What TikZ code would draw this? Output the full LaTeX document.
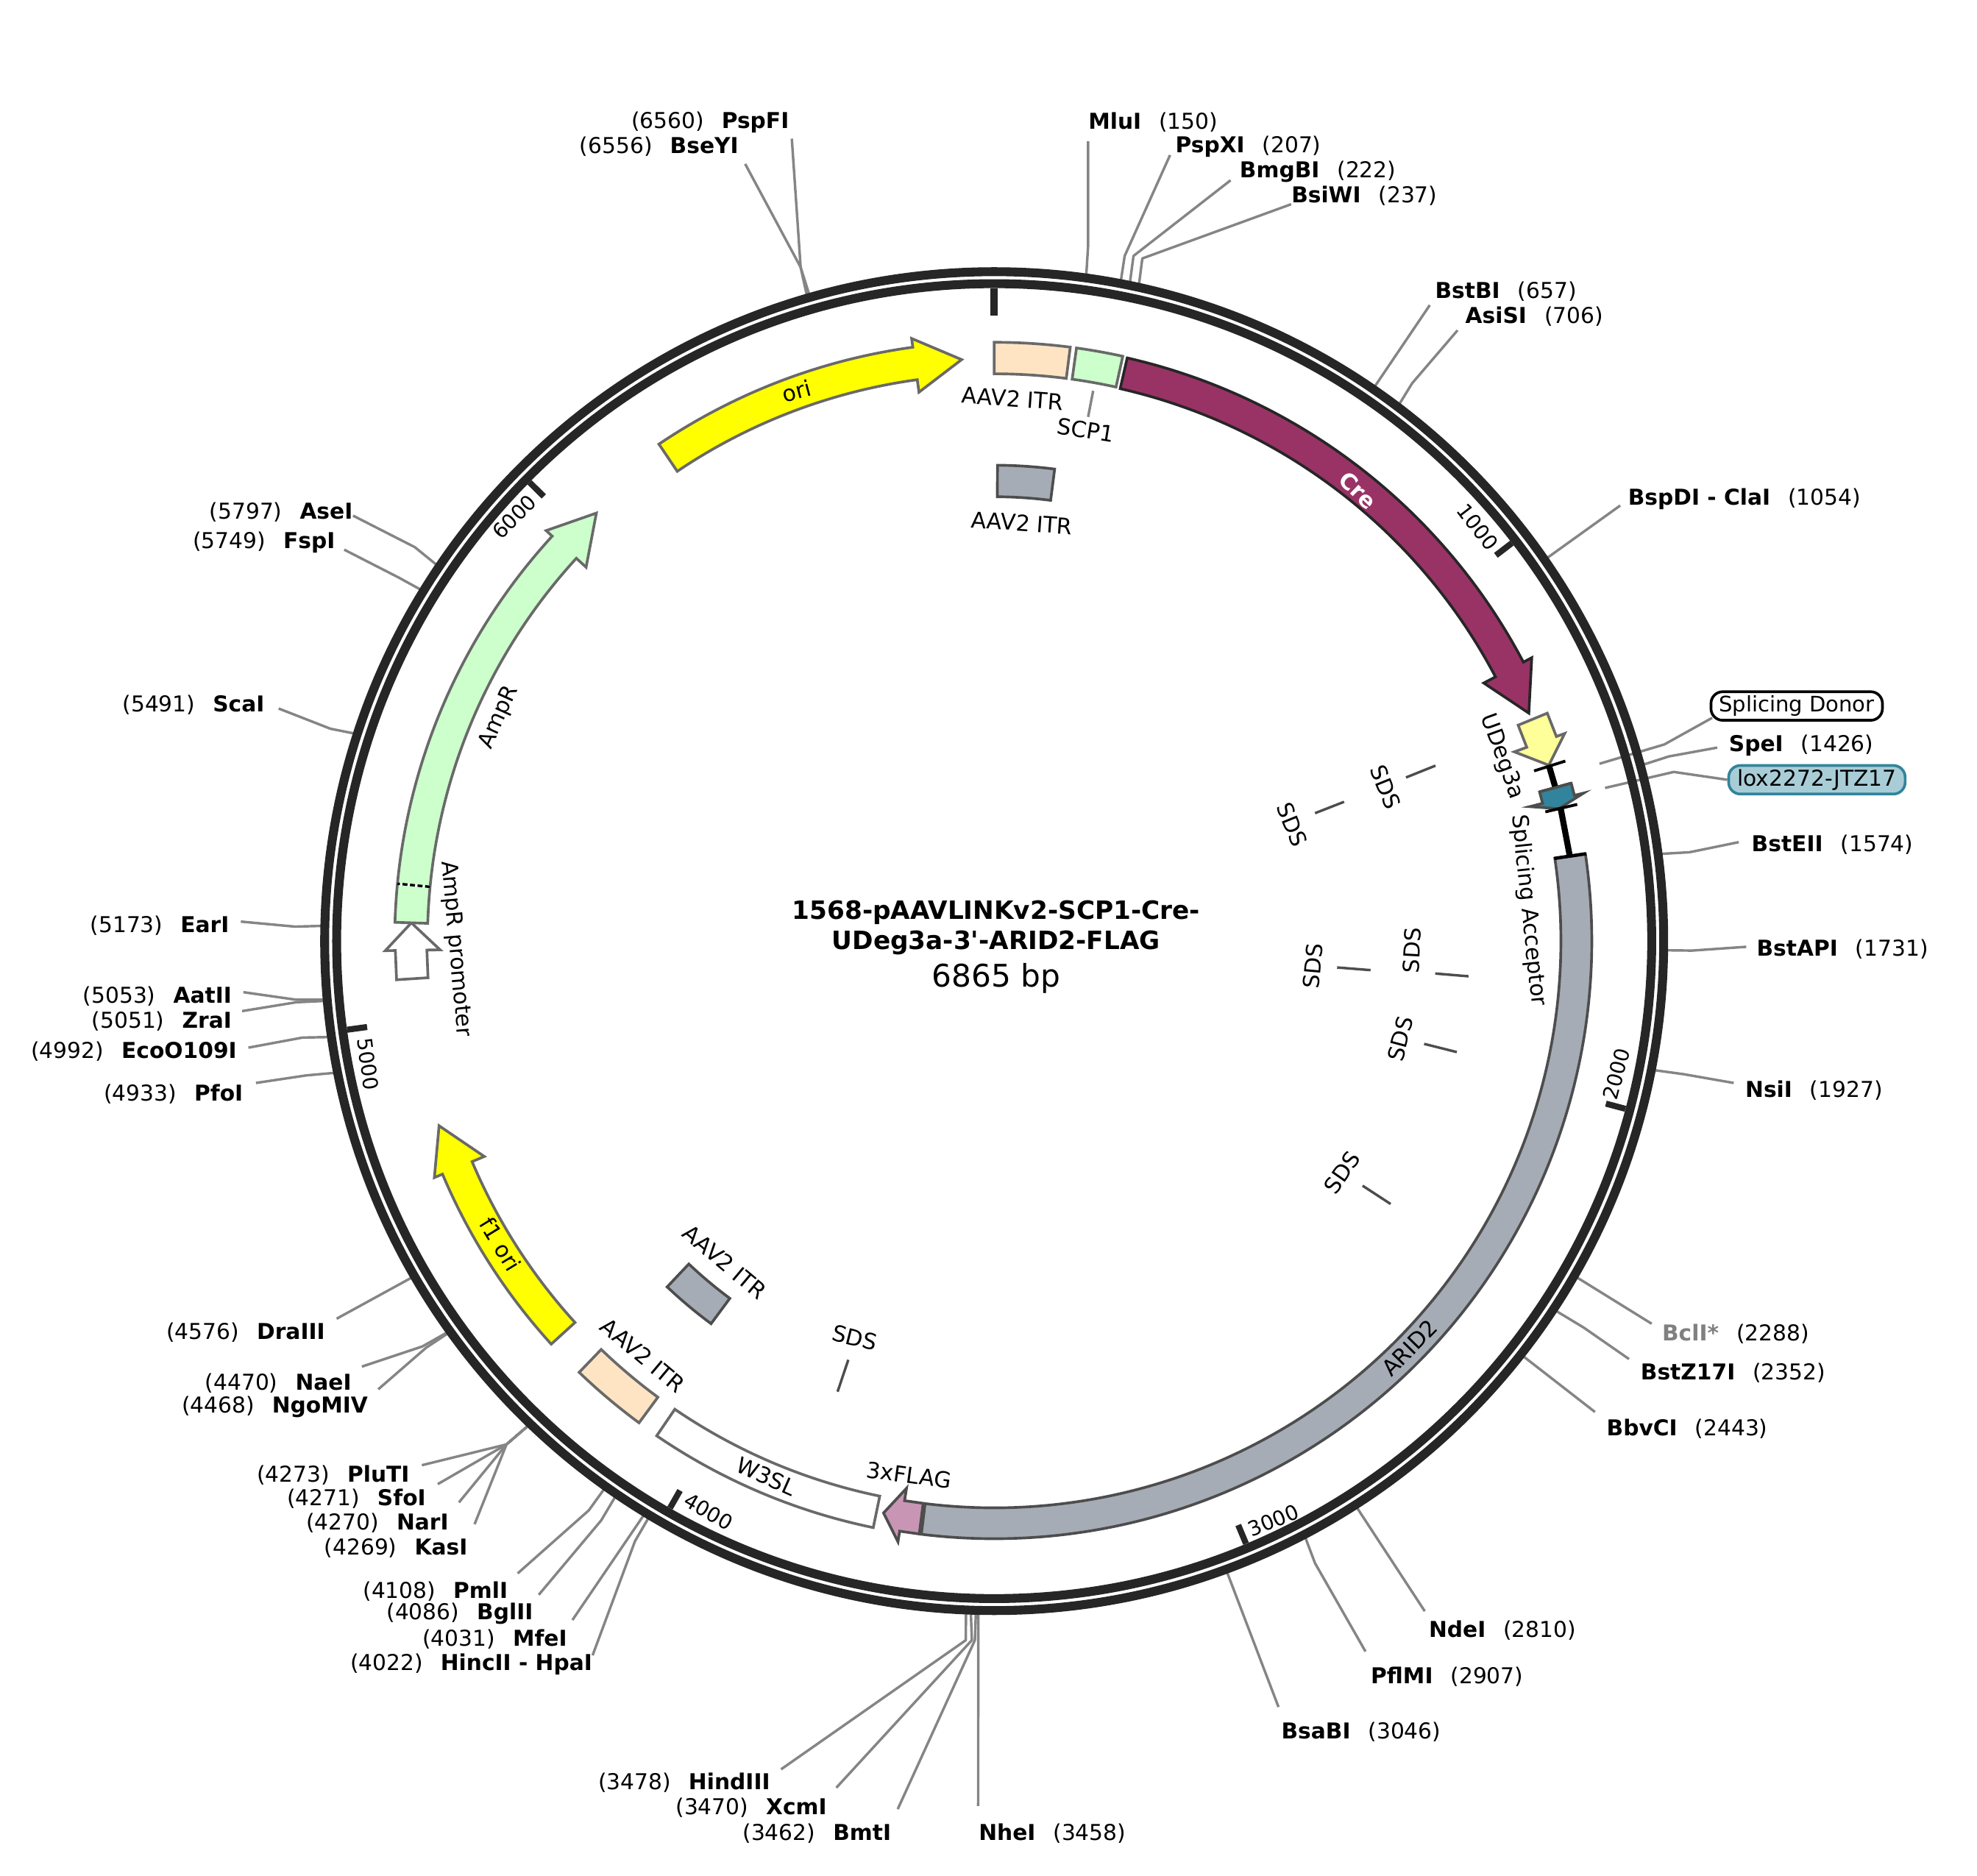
\documentclass[tikz,border=0pt]{standalone}
\usepackage{fontspec}
\setmainfont{DejaVu Sans}[Ligatures = TeXOff]
\definecolor{rimgray}{HTML}{262626}
\definecolor{leadgray}{HTML}{858585}
\definecolor{edgegray}{HTML}{696969}
\definecolor{edgedark}{HTML}{4D4D4D}
\definecolor{crecol}{HTML}{993366}
\definecolor{itrcol}{HTML}{FFE4C4}
\definecolor{mintcol}{HTML}{CCFFCC}
\definecolor{slatecol}{HTML}{A6ACB5}
\definecolor{flagcol}{HTML}{C896B4}
\definecolor{loxcol}{HTML}{31849B}
\definecolor{loxfill}{HTML}{A9CDD7}
\definecolor{paleyellow}{HTML}{FFFF99}
\definecolor{oriyellow}{HTML}{FFFF00}
\tikzset{
	rim/.style = {draw = rimgray, line width = 5.3pt},
	tickmark/.style = {draw = rimgray, line width = 3.6pt},
	leader/.style = {draw = leadgray, line width = 1.5pt, line join = round},
	site/.style = {inner sep = 0pt, yshift = -0.8pt, font = \fontsize{13}{15}\selectfont},
	lab/.style = {inner sep = 0pt, font = \fontsize{13.2}{15}\selectfont},
	ticklab/.style = {inner sep = 0pt, font = \fontsize{12.2}{15}\selectfont},
	feat/.style = {draw = edgegray, line width = 1.6pt, miter limit = 20},
	featdark/.style = {draw = edgedark, line width = 1.6pt, miter limit = 20},
	sds/.style = {draw = edgedark, line width = 1.5pt},
	barline/.style = {draw = black, line width = 1.7pt}
}
\begin{document}
\begin{tikzpicture}[x = 0.75pt, y = -0.75pt]
	\useasboundingbox (0, 0) rectangle (1568, 1488);

	\coordinate (sPspF) at (628, 110);
	\coordinate (kPspF) at (635, 212);
	\coordinate (sBseY) at (591, 130);
	\coordinate (kBseY) at (635, 212);
	\coordinate (sMlu) at (863, 112);
	\coordinate (kMlu) at (863, 195);
	\coordinate (sPspX) at (928, 123);
	\coordinate (kPspX) at (892, 203);
	\coordinate (sBmgB) at (976, 143);
	\coordinate (kBmgB) at (899, 203);
	\coordinate (sBsiW) at (1024, 162);
	\coordinate (kBsiW) at (906, 205);
	\coordinate (sBstB) at (1134, 242);
	\coordinate (sAsiS) at (1156, 262);
	\coordinate (kAsiS) at (1120, 304);
	\coordinate (sBspD) at (1285, 401);
	\coordinate (kDonor) at (1320, 590.5);
	\coordinate (eDonor) at (1268.6, 605.8);
	\coordinate (sSpe) at (1362, 593);
	\coordinate (kSpe) at (1323.6, 600);
	\coordinate (kLox) at (1327.5, 612.3);
	\coordinate (eLox) at (1273, 625);
	\coordinate (sBstE) at (1379, 668);
	\coordinate (kBstE) at (1340, 676);
	\coordinate (sBstA) at (1385, 751);
	\coordinate (kBstA) at (1342, 754);
	\coordinate (sNsi) at (1375, 859);
	\coordinate (kNsi) at (1335, 852);
	\coordinate (sBcl) at (1310, 1050);
	\coordinate (sBstZ) at (1292, 1078);
	\coordinate (kBstZ) at (1256, 1053);
	\coordinate (sBbvC) at (1265, 1120);
	\coordinate (sNde) at (1130, 1278);
	\coordinate (sPflM) at (1083, 1310);
	\coordinate (kPflM) at (1043, 1240);
	\coordinate (sBsaB) at (1014, 1354);
	\coordinate (sNhe) at (775.8, 1432.6);
	\coordinate (sBmt) at (712, 1435);
	\coordinate (kBmt) at (773.2, 1301);
	\coordinate (sXcm) at (663.3, 1418);
	\coordinate (kXcm) at (770.8, 1301);
	\coordinate (sHind) at (619.5, 1403.4);
	\coordinate (kHind) at (766, 1301);
	\coordinate (sHinc) at (470, 1313);
	\coordinate (kHinc) at (503.6, 1222.5);
	\coordinate (sMfe) at (454, 1285);
	\coordinate (sBgl) at (427.3, 1265);
	\coordinate (kBgl) at (476.8, 1206);
	\coordinate (sPml) at (410.6, 1248);
	\coordinate (kPml) at (467, 1198);
	\coordinate (kKas) at (401.7, 1145.7);
	\coordinate (sKas) at (376.4, 1209);
	\coordinate (sNar) at (364, 1191.7);
	\coordinate (sSfo) at (347.2, 1177.2);
	\coordinate (sPlu) at (334.6, 1162.2);
	\coordinate (sNgo) at (300, 1102);
	\coordinate (kNgo) at (338, 1069);
	\coordinate (sNae) at (287, 1084);
	\coordinate (kNae) at (335, 1068);
	\coordinate (sDra) at (267, 1046);
	\coordinate (sPfo) at (203, 859);
	\coordinate (kPfo) at (243, 853);
	\coordinate (sEco) at (197, 831);
	\coordinate (kEco) at (240, 823);
	\coordinate (sZra) at (192, 802);
	\coordinate (kZra) at (235, 795);
	\coordinate (sAat) at (193, 787);
	\coordinate (kAat) at (235, 793);
	\coordinate (sEar) at (191, 731);
	\coordinate (kEar) at (234, 735);
	\coordinate (sSca) at (221, 562);
	\coordinate (kSca) at (262, 578);
	\coordinate (sFsp) at (273, 436);
	\coordinate (kFsp) at (316, 458);
	\coordinate (sAse) at (280, 409);
	\coordinate (kAse) at (329, 434);

	\node [site, anchor = east] (nPspF) at (626, 96) {(6560)\hspace{10.5pt}\textbf{PspFI}};
	\node [site, anchor = east] (nBseY) at (586, 115) {(6556)\hspace{10.5pt}\textbf{BseYI}};
	\node [site, anchor = west] (nMlu) at (863, 96) {\textbf{MluI}\hspace{10.5pt}(150)};
	\node [site, anchor = west] (nPspX) at (932, 115) {\textbf{PspXI}\hspace{10.5pt}(207)};
	\node [site, anchor = west] (nBmgB) at (983, 135) {\textbf{BmgBI}\hspace{10.5pt}(222)};
	\node [site, anchor = west] (nBsiW) at (1024, 154) {\textbf{BsiWI}\hspace{10.5pt}(237)};
	\node [site, anchor = west] (nBstB) at (1138, 230) {\textbf{BstBI}\hspace{10.5pt}(657)};
	\node [site, anchor = west] (nAsiS) at (1162, 250) {\textbf{AsiSI}\hspace{10.5pt}(706)};
	\node [site, anchor = west] (nBspD) at (1291, 395) {\textbf{BspDI - ClaI}\hspace{10.5pt}(1054)};
	\node [site, anchor = west] (nSpe) at (1371, 590) {\textbf{SpeI}\hspace{10.5pt}(1426)};
	\node [site, anchor = west] (nBstE) at (1389, 669) {\textbf{BstEII}\hspace{10.5pt}(1574)};
	\node [site, anchor = west] (nBstA) at (1393, 752) {\textbf{BstAPI}\hspace{10.5pt}(1731)};
	\node [site, anchor = west] (nNsi) at (1384, 864) {\textbf{NsiI}\hspace{10.5pt}(1927)};
	\node [site, anchor = west] (nBcl) at (1318, 1057) {\textcolor{gray}{\textbf{BclI*}}\hspace{10.5pt}(2288)};
	\node [site, anchor = west] (nBstZ) at (1301, 1088) {\textbf{BstZ17I}\hspace{10.5pt}(2352)};
	\node [site, anchor = west] (nBbvC) at (1274, 1132) {\textbf{BbvCI}\hspace{10.5pt}(2443)};
	\node [site, anchor = west] (nNde) at (1133, 1292) {\textbf{NdeI}\hspace{10.5pt}(2810)};
	\node [site, anchor = west] (nPflM) at (1087, 1329) {\textbf{PflMI}\hspace{10.5pt}(2907)};
	\node [site, anchor = west] (nBsaB) at (1016, 1373) {\textbf{BsaBI}\hspace{10.5pt}(3046)};
	\node [site, anchor = west] (nNhe) at (776, 1453) {\textbf{NheI}\hspace{10.5pt}(3458)};
	\node [site, anchor = east] (nBmt) at (707, 1453) {(3462)\hspace{10.5pt}\textbf{BmtI}};
	\node [site, anchor = east] (nXcm) at (656, 1433) {(3470)\hspace{10.5pt}\textbf{XcmI}};
	\node [site, anchor = east] (nHind) at (611, 1413) {(3478)\hspace{10.5pt}\textbf{HindIII}};
	\node [site, anchor = east] (nHinc) at (470, 1319) {(4022)\hspace{10.5pt}\textbf{HincII - HpaI}};
	\node [site, anchor = east] (nMfe) at (450, 1299) {(4031)\hspace{10.5pt}\textbf{MfeI}};
	\node [site, anchor = east] (nBgl) at (423, 1279) {(4086)\hspace{10.5pt}\textbf{BglII}};
	\node [site, anchor = east] (nPml) at (403, 1261) {(4108)\hspace{10.5pt}\textbf{PmlI}};
	\node [site, anchor = east] (nKas) at (371, 1227) {(4269)\hspace{10.5pt}\textbf{KasI}};
	\node [site, anchor = east] (nNar) at (356, 1207) {(4270)\hspace{10.5pt}\textbf{NarI}};
	\node [site, anchor = east] (nSfo) at (338, 1188) {(4271)\hspace{10.5pt}\textbf{SfoI}};
	\node [site, anchor = east] (nPlu) at (325, 1169) {(4273)\hspace{10.5pt}\textbf{PluTI}};
	\node [site, anchor = east] (nNgo) at (292, 1115) {(4468)\hspace{10.5pt}\textbf{NgoMIV}};
	\node [site, anchor = east] (nNae) at (279, 1096) {(4470)\hspace{10.5pt}\textbf{NaeI}};
	\node [site, anchor = east] (nDra) at (258, 1056) {(4576)\hspace{10.5pt}\textbf{DraIII}};
	\node [site, anchor = east] (nPfo) at (193, 867) {(4933)\hspace{10.5pt}\textbf{PfoI}};
	\node [site, anchor = east] (nEco) at (188, 833) {(4992)\hspace{10.5pt}\textbf{EcoO109I}};
	\node [site, anchor = east] (nZra) at (184, 809) {(5051)\hspace{10.5pt}\textbf{ZraI}};
	\node [site, anchor = east] (nAat) at (184, 789) {(5053)\hspace{10.5pt}\textbf{AatII}};
	\node [site, anchor = east] (nEar) at (182, 733) {(5173)\hspace{10.5pt}\textbf{EarI}};
	\node [site, anchor = east] (nSca) at (210, 558) {(5491)\hspace{10.5pt}\textbf{ScaI}};
	\node [site, anchor = east] (nFsp) at (266, 429) {(5749)\hspace{10.5pt}\textbf{FspI}};
	\node [site, anchor = east] (nAse) at (280, 405) {(5797)\hspace{10.5pt}\textbf{AseI}};

	\node [draw = black, fill = white, line width = 1.6pt, rounded corners = 7pt, minimum width = 102pt, minimum height = 17pt, inner sep = 0pt, font = \fontsize{12.7}{14}\selectfont] (donor) at (1425, 560) {Splicing Donor};
	\node [draw = loxcol, fill = loxfill, line width = 1.6pt, rounded corners = 7pt, minimum width = 105pt, minimum height = 17pt, inner sep = 0pt, font = \fontsize{13}{14}\selectfont] (lox) at (1441, 618.5) {lox2272-JTZ17};

	\node [inner sep = 0pt, font = \bfseries\fontsize{15}{17}\selectfont] (title1) at (790, 724) {1568-pAAVLINKv2-SCP1-Cre-};
	\node [inner sep = 0pt, font = \bfseries\fontsize{15}{17}\selectfont] (title2) at (790, 748) {UDeg3a-3'-ARID2-FLAG};
	\node [inner sep = 0pt, font = \fontsize{18.5}{21}\selectfont] (title3) at (790, 776) {6865 bp};

	\begin{scope}[shift = {(788.5, 746.5)}, x = 0.75pt, y = 0.75pt]
		\coordinate (rPspF) at ({90 - 0.05244*6560}:534);
		\coordinate (rBseY) at ({90 - 0.05244*6556}:534);
		\coordinate (rMlu) at ({90 - 0.05244*150}:534);
		\coordinate (rPspX) at ({90 - 0.05244*207}:534);
		\coordinate (rBmgB) at ({90 - 0.05244*222}:534);
		\coordinate (rBsiW) at ({90 - 0.05244*237}:534);
		\coordinate (rBstB) at ({90 - 0.05244*657}:534);
		\coordinate (rAsiS) at ({90 - 0.05244*706}:534);
		\coordinate (rBspD) at ({90 - 0.05244*1054}:534);
		\coordinate (rSpe) at ({90 - 0.05244*1426}:534);
		\coordinate (rBstE) at ({90 - 0.05244*1574}:534);
		\coordinate (rBstA) at ({90 - 0.05244*1731}:534);
		\coordinate (rNsi) at ({90 - 0.05244*1927}:534);
		\coordinate (rBcl) at ({90 - 0.05244*2288}:534);
		\coordinate (rBstZ) at ({90 - 0.05244*2352}:534);
		\coordinate (rBbvC) at ({90 - 0.05244*2443}:534);
		\coordinate (rNde) at ({90 - 0.05244*2810}:534);
		\coordinate (rPflM) at ({90 - 0.05244*2907}:534);
		\coordinate (rBsaB) at ({90 - 0.05244*3046}:534);
		\coordinate (rNhe) at ({90 - 0.05244*3458}:534);
		\coordinate (rBmt) at ({90 - 0.05244*3462}:534);
		\coordinate (rXcm) at ({90 - 0.05244*3470}:534);
		\coordinate (rHind) at ({90 - 0.05244*3478}:534);
		\coordinate (rHinc) at ({90 - 0.05244*4022}:534);
		\coordinate (rMfe) at ({90 - 0.05244*4031}:534);
		\coordinate (rBgl) at ({90 - 0.05244*4086}:534);
		\coordinate (rPml) at ({90 - 0.05244*4108}:534);
		\coordinate (rKas) at ({90 - 0.05244*4269}:534);
		\coordinate (rNgo) at ({90 - 0.05244*4468}:534);
		\coordinate (rNae) at ({90 - 0.05244*4470}:534);
		\coordinate (rDra) at ({90 - 0.05244*4576}:534);
		\coordinate (rPfo) at ({90 - 0.05244*4933}:534);
		\coordinate (rEco) at ({90 - 0.05244*4992}:534);
		\coordinate (rZra) at ({90 - 0.05244*5051}:534);
		\coordinate (rAat) at ({90 - 0.05244*5053}:534);
		\coordinate (rEar) at ({90 - 0.05244*5173}:534);
		\coordinate (rSca) at ({90 - 0.05244*5491}:534);
		\coordinate (rFsp) at ({90 - 0.05244*5749}:534);
		\coordinate (rAse) at ({90 - 0.05244*5797}:534);
	\end{scope}

	\draw [leader] (sPspF) -- (kPspF) -- (rPspF);
	\draw [leader] (sBseY) -- (kBseY) -- (rBseY);
	\draw [leader] (sMlu) -- (kMlu) -- (rMlu);
	\draw [leader] (sPspX) -- (kPspX) -- (rPspX);
	\draw [leader] (sBmgB) -- (kBmgB) -- (rBmgB);
	\draw [leader] (sBsiW) -- (kBsiW) -- (rBsiW);
	\draw [leader] (sBstB) -- (rBstB);
	\draw [leader] (sAsiS) -- (kAsiS) -- (rAsiS);
	\draw [leader] (sBspD) -- (rBspD);
	\draw [leader] (donor.south west) ++(2, -3) -- (kDonor) -- (eDonor);
	\draw [leader] (sSpe) -- (kSpe) -- (rSpe);
	\draw [leader] (lox.west) -- (kLox) -- (eLox);
	\draw [leader] (sBstE) -- (kBstE) -- (rBstE);
	\draw [leader] (sBstA) -- (kBstA) -- (rBstA);
	\draw [leader] (sNsi) -- (kNsi) -- (rNsi);
	\draw [leader] (sBcl) -- (rBcl);
	\draw [leader] (sBstZ) -- (kBstZ) -- (rBstZ);
	\draw [leader] (sBbvC) -- (rBbvC);
	\draw [leader] (sNde) -- (rNde);
	\draw [leader] (sPflM) -- (kPflM) -- (rPflM);
	\draw [leader] (sBsaB) -- (rBsaB);
	\draw [leader] (sNhe) -- (rNhe);
	\draw [leader] (sBmt) -- (kBmt) -- (rBmt);
	\draw [leader] (sXcm) -- (kXcm) -- (rXcm);
	\draw [leader] (sHind) -- (kHind) -- (rHind);
	\draw [leader] (sHinc) -- (kHinc) -- (rHinc);
	\draw [leader] (sMfe) -- (rMfe);
	\draw [leader] (sBgl) -- (kBgl) -- (rBgl);
	\draw [leader] (sPml) -- (kPml) -- (rPml);
	\draw [leader] (sKas) -- (kKas) -- (rKas);
	\draw [leader] (sNar) -- (kKas) -- (rKas);
	\draw [leader] (sSfo) -- (kKas) -- (rKas);
	\draw [leader] (sPlu) -- (kKas) -- (rKas);
	\draw [leader] (sNgo) -- (kNgo) -- (rNgo);
	\draw [leader] (sNae) -- (kNae) -- (rNae);
	\draw [leader] (sDra) -- (rDra);
	\draw [leader] (sPfo) -- (kPfo) -- (rPfo);
	\draw [leader] (sEco) -- (kEco) -- (rEco);
	\draw [leader] (sZra) -- (kZra) -- (rZra);
	\draw [leader] (sAat) -- (kAat) -- (rAat);
	\draw [leader] (sEar) -- (kEar) -- (rEar);
	\draw [leader] (sSca) -- (kSca) -- (rSca);
	\draw [leader] (sFsp) -- (kFsp) -- (rFsp);
	\draw [leader] (sAse) -- (kAse) -- (rAse);

	\begin{scope}[shift = {(788.5, 746.5)}, x = 0.75pt, y = 0.75pt]
		\draw [rim] (0, 0) circle [radius = 531];
		\draw [rim] (0, 0) circle [radius = 521.5];

		\draw [tickmark, line width = 4.6pt] (90:518) -- (90:496);
		\draw [tickmark] ({90 - 52.44}:518) -- ({90 - 52.44}:502);
		\draw [tickmark] ({90 - 104.88}:518) -- ({90 - 104.88}:502);
		\draw [tickmark] ({90 - 157.32}:518) -- ({90 - 157.32}:502);
		\draw [tickmark] ({90 - 209.76}:518) -- ({90 - 209.76}:502);
		\draw [tickmark] ({90 - 262.2}:518) -- ({90 - 262.2}:502);
		\draw [tickmark] ({90 - 314.64}:518) -- ({90 - 314.64}:502);

		\draw [feat, fill = oriyellow] (124:475.5) arc [start angle = 124, end angle = 97.8, radius = 475.5] -- (97.8:482.5) -- (93.2:462) -- (97.8:439.5) -- (97.8:449.5) arc [start angle = 97.8, end angle = 124, radius = 449.5] -- cycle;
		\draw [feat, fill = itrcol] (90:475) arc [start angle = 90, end angle = 82.7, radius = 475] -- (82.7:450) arc [start angle = 82.7, end angle = 90, radius = 450] -- cycle;
		\draw [feat, fill = mintcol] (82.1:475) arc [start angle = 82.1, end angle = 77.6, radius = 475] -- (77.6:450) arc [start angle = 77.6, end angle = 82.1, radius = 450] -- cycle;
		\draw [draw = rimgray, line width = 1.6pt, miter limit = 20, fill = crecol] (77.15:474.5) arc [start angle = 77.15, end angle = 27.8, radius = 474.5] -- (27.8:482) -- (23.1:461) -- (27.8:439) -- (27.8:449.5) arc [start angle = 27.8, end angle = 77.15, radius = 449.5] -- cycle;
		\draw [feat, fill = paleyellow] (22.4:474.5) -- (20:474.5) -- (20:481.5) -- (17.6:461.5) -- (20:439) -- (20:449.5) -- (22.4:449.5) -- cycle;
		\draw [barline] (17.5:449) -- (17.5:475);
		\draw [draw = black, line width = 3.6pt] (17.5:461.5) -- (15.3:461.5);
		\draw [barline] (15.3:448.5) -- (15.3:474.5);
		\draw [featdark, fill = loxcol] (15.3:474.5) -- (14.1:474.5) -- (14.1:482) -- (13.2:460) -- (14.1:438) -- (14.1:448.5) -- (15.3:448.5) -- cycle;
		\draw [barline] (13.2:449) -- (13.2:475);
		\draw [draw = black, line width = 3.6pt] (13.2:461.5) -- (8.4:461.5);
		\draw [featdark, fill = slatecol] (8.4:474) arc [start angle = 8.4, end angle = -97, radius = 474] -- (-97:449.5) arc [start angle = -97, end angle = 8.4, radius = 449.5] -- cycle;
		\draw [draw = black, line width = 2pt] (8.4:449) -- (8.4:474.5);
		\draw [featdark, fill = flagcol] (262.8:474) -- (260.9:474) -- (260.9:482.5) -- (259.05:462) -- (260.9:439.5) -- (260.9:449.5) -- (262.8:449.5) -- cycle;
		\draw [feat, fill = white] (258.35:475) arc [start angle = 258.35, end angle = 235.7, radius = 475] -- (235.7:449.5) arc [start angle = 235.7, end angle = 258.35, radius = 449.5] -- cycle;
		\draw [feat, fill = itrcol] (233.6:474.7) arc [start angle = 233.6, end angle = 226.1, radius = 474.7] -- (226.1:449.5) arc [start angle = 226.1, end angle = 233.6, radius = 449.5] -- cycle;
		\draw [feat, fill = oriyellow] (222.3:475) arc [start angle = 222.3, end angle = 202.9, radius = 475] -- (202.9:482) -- (198.4:464) -- (202.9:439) -- (202.9:449.5) arc [start angle = 202.9, end angle = 222.3, radius = 449.5] -- cycle;
		\draw [feat, fill = white] (183.7:475) -- (180.9:475) -- (180.9:483) -- (178.2:462.5) -- (180.9:439.5) -- (180.9:450) -- (183.7:450) -- cycle;
		\draw [feat, fill = mintcol] (178.2:475.5) arc [start angle = 178.2, end angle = 137.5, radius = 475.5] -- (137.5:482) -- (132.9:463.5) -- (137.5:439) -- (137.5:449.5) arc [start angle = 137.5, end angle = 178.2, radius = 449.5] -- cycle;
		\draw [draw = white, line width = 1.5pt] (174.5:449.5) -- (174.5:475.5);
		\draw [draw = black, line width = 1.5pt, dash pattern = on 3pt off 1.5pt] (174.5:449.5) -- (174.5:475.5);
		\draw [featdark, fill = slatecol] (89.6:377.5) arc [start angle = 89.6, end angle = 82.7, radius = 377.5] -- (82.7:352.5) arc [start angle = 82.7, end angle = 89.6, radius = 352.5] -- cycle;
		\draw [featdark, fill = slatecol] (233.5:377.5) arc [start angle = 233.5, end angle = 226.6, radius = 377.5] -- (226.6:352.5) arc [start angle = 226.6, end angle = 233.5, radius = 352.5] -- cycle;
	\end{scope}

	\coordinate (scp1) at (867, 310);
	\coordinate (scp2) at (863, 330.7);
	\draw [leader] (scp1) -- (scp2);

	\coordinate (d1a) at (1115.1, 616.7);
	\coordinate (d1b) at (1138.5, 607.3);
	\coordinate (d2a) at (1043, 645);
	\coordinate (d2b) at (1066, 636);
	\coordinate (d3a) at (1060.5, 767.4);
	\coordinate (d3b) at (1087, 769.5);
	\coordinate (d4a) at (1138.3, 772.2);
	\coordinate (d4b) at (1164.7, 774.4);
	\coordinate (d5a) at (1129.5, 828);
	\coordinate (d5b) at (1155.4, 834.5);
	\coordinate (d6a) at (1080.7, 940.5);
	\coordinate (d6b) at (1102.9, 955);
	\coordinate (d7a) at (672.8, 1078.6);
	\coordinate (d7b) at (664.3, 1103.9);
	\draw [sds] (d1a) -- (d1b);
	\draw [sds] (d2a) -- (d2b);
	\draw [sds] (d3a) -- (d3b);
	\draw [sds] (d4a) -- (d4b);
	\draw [sds] (d5a) -- (d5b);
	\draw [sds] (d6a) -- (d6b);
	\draw [sds] (d7a) -- (d7b);

	\node [lab, rotate = -68] (s1) at (1099, 624.4) {SDS};
	\node [lab, rotate = -68] (s2) at (1025, 654) {SDS};
	\node [lab, rotate = 85] (s3) at (1041.2, 766.4) {SDS};
	\node [lab, rotate = 87] (s4) at (1119.8, 753.8) {SDS};
	\node [lab, rotate = 75] (s5) at (1110.7, 824) {SDS};
	\node [lab, rotate = 55] (s6) at (1064.4, 930.2) {SDS};
	\node [lab, rotate = -14] (s7) at (678, 1061) {SDS};

	\node [lab, rotate = -4] (itr1) at (803, 316) {AAV2 ITR};
	\node [lab, rotate = -9] (scp) at (861, 341) {SCP1};
	\node [lab, rotate = -4] (itr2) at (810.5, 414.7) {AAV2 ITR};
	\node [lab, rotate = 15] (ori) at (632, 310) {ori};
	\node [lab, rotate = -44, text = white, font = \bfseries\fontsize{13.2}{15}\selectfont] (cre) at (1077, 389) {Cre};
	\node [lab, rotate = 65.7] (ampr) at (396, 569) {AmpR};
	\node [lab, rotate = -85] (amprp) at (361.3, 752.6) {AmpR promoter};
	\node [lab, rotate = -58.4] (f1) at (397, 987) {f1 ori};
	\node [lab, rotate = 45.6] (arid) at (1118, 1069) {ARID2};
	\node [lab, rotate = -7.8] (flag) at (721, 1170) {3xFLAG};
	\node [lab, rotate = -24] (w3) at (607.7, 1171) {W3SL};
	\node [lab, rotate = -40] (itr3) at (575, 1001) {AAV2 ITR};
	\node [lab, rotate = -40] (itr4) at (510, 1075) {AAV2 ITR};
	\node [lab, rotate = -70] (udeg) at (1191, 600) {UDeg3a};
	\node [lab, rotate = -84] (spla) at (1212, 722) {Splicing Acceptor};

	\node [ticklab, rotate = -52.4] (t1) at (1172, 418) {1000};
	\node [ticklab, rotate = 75.1] (t2) at (1282, 852) {2000};
	\node [ticklab, rotate = 22.7] (t3) at (1010, 1206) {3000};
	\node [ticklab, rotate = -30] (t4) at (562, 1199) {4000};
	\node [ticklab, rotate = -82.2] (t5) at (292, 844) {5000};
	\node [ticklab, rotate = 45.4] (t6) at (408, 410) {6000};
\end{tikzpicture}
\end{document}
